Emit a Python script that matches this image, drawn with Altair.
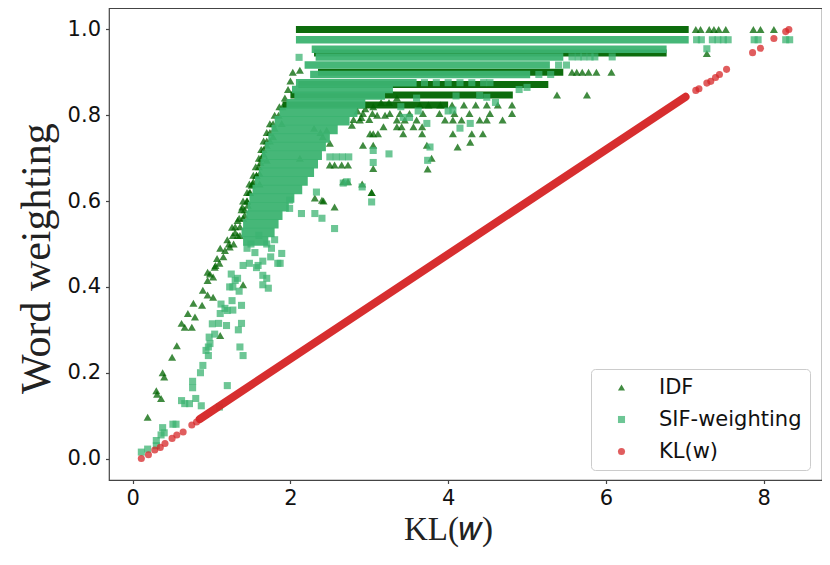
import altair as alt
import pandas as pd

SERIES = ["IDF", "SIF-weighting", "KL(w)"]
COLORS = ["#006400", "#3cb371", "#d62728"]
SHAPES = ["triangle-up", "square", "circle"]

# ---- IDF: dense horizontal runs (y, x_start, x_end) and scattered points
idf_band_y  = [1.000, 0.945, 0.900, 0.872, 0.847, 0.824]
idf_band_x0 = [2.07, 2.30, 2.35, 2.10, 2.00, 1.90]
idf_band_x1 = [7.05, 6.77, 5.46, 5.27, 4.82, 4.00]

idf_x = [7.14, 7.20, 7.31, 7.37, 7.43, 7.52, 7.87, 7.96, 8.13, 7.28,
         5.57, 5.63, 5.70, 5.78, 5.88, 6.07, 5.38, 5.76,
         3.64, 3.75, 3.90, 4.05, 4.20, 4.35, 4.49, 4.63, 4.81,
         2.92, 3.04, 3.26, 3.39, 3.51, 3.68, 3.89, 4.08, 4.27, 4.53, 4.81,
         3.35, 3.45, 3.60, 3.96, 4.06, 4.17, 4.40, 4.49, 4.69,
         3.18, 3.35, 3.41, 3.56, 3.67,
         3.01, 3.11, 3.43, 3.67, 4.06, 4.30, 4.44,
         2.92, 3.05, 3.73, 4.12, 4.28, 3.79,
         2.50, 2.56, 2.65, 2.73, 3.05, 3.74, 3.03,
         2.67, 2.73, 2.91, 3.03, 2.31, 2.40, 2.42, 2.56,
         2.80, 2.90, 3.00, 3.10, 3.20, 2.85, 2.95, 3.05, 3.15, 3.25, 3.35,
         2.12, 2.41, 2.50, 2.30, 2.38, 2.46, 2.78, 2.88, 3.05,
         0.19, 0.30, 0.31, 0.36, 0.38, 0.40, 0.50, 0.56, 0.62, 0.66, 0.75, 0.70,
         0.79, 0.77, 0.88, 0.89, 0.95, 1.02, 0.95, 1.02, 0.95, 1.04, 1.07, 1.11,
         1.17, 1.23, 1.26, 1.30, 1.36, 1.42, 1.39, 1.51, 1.61, 1.53, 1.61, 1.70,
         1.78, 1.89, 2.12, 1.11, 1.40, 1.20, 1.33, 1.45, 1.48, 1.57, 1.62, 1.66,
         1.70, 1.74, 1.80, 1.85, 1.90, 1.93, 1.97, 2.00, 2.03, 0.98, 1.46,
         1.22, 1.28, 1.27, 1.33, 1.30, 1.36, 1.35, 1.40, 1.38, 1.42, 1.40, 1.45,
         1.45, 1.49, 1.48, 1.52, 1.53, 1.57, 1.56, 1.60, 1.60, 1.63, 1.63, 1.66,
         1.66, 1.70, 1.70, 1.74, 1.74, 1.78, 1.80, 1.86, 1.15, 1.10, 1.05]
idf_y = [1.000, 1.000, 1.000, 1.000, 1.000, 1.000, 1.000, 1.000, 1.000, 0.944,
         0.900, 0.900, 0.900, 0.900, 0.900, 0.900, 0.847, 0.847,
         0.824, 0.824, 0.824, 0.824, 0.824, 0.824, 0.824, 0.824, 0.824,
         0.804, 0.804, 0.804, 0.804, 0.804, 0.804, 0.804, 0.804, 0.804, 0.804, 0.804,
         0.789, 0.789, 0.789, 0.789, 0.789, 0.789, 0.789, 0.789, 0.789,
         0.773, 0.773, 0.773, 0.773, 0.773,
         0.757, 0.757, 0.757, 0.757, 0.757, 0.757, 0.757,
         0.730, 0.730, 0.730, 0.726, 0.737, 0.700,
         0.684, 0.684, 0.684, 0.684, 0.676, 0.675, 0.620,
         0.645, 0.645, 0.640, 0.620, 0.607, 0.602, 0.600, 0.586,
         0.790, 0.795, 0.790, 0.800, 0.800, 0.810, 0.815, 0.820, 0.830, 0.830, 0.840,
         0.700, 0.750, 0.735, 0.770, 0.760, 0.765, 0.777, 0.789, 0.757,
         0.096, 0.158, 0.150, 0.140, 0.200, 0.190, 0.236, 0.263, 0.315, 0.306, 0.306, 0.338,
         0.330, 0.362, 0.357, 0.392, 0.381, 0.376, 0.415, 0.423, 0.434, 0.446, 0.466, 0.490,
         0.485, 0.493, 0.539, 0.527, 0.520, 0.567, 0.586, 0.637, 0.640, 0.645, 0.664, 0.695,
         0.750, 0.781, 0.905, 0.287, 0.405, 0.510, 0.555, 0.600, 0.620, 0.660, 0.690, 0.710,
         0.730, 0.740, 0.770, 0.800, 0.820, 0.840, 0.860, 0.880, 0.900, 0.430, 0.590,
         0.500, 0.500, 0.520, 0.520, 0.540, 0.540, 0.560, 0.560, 0.580, 0.580, 0.600, 0.600,
         0.620, 0.620, 0.640, 0.640, 0.660, 0.660, 0.680, 0.680, 0.700, 0.700, 0.720, 0.720,
         0.740, 0.740, 0.760, 0.760, 0.780, 0.780, 0.800, 0.820, 0.470, 0.455, 0.450]

# ---- SIF-weighting: dense runs (top rows, then the cloud rows) and scattered points
sif_top_y  = [0.976, 0.954, 0.936, 0.917, 0.895, 0.876, 0.860, 0.845]
sif_top_x0 = [2.07, 2.27, 2.32, 2.18, 2.25, 2.07, 2.02, 2.05]
sif_top_x1 = [7.05, 6.77, 5.46, 5.29, 5.04, 3.60, 3.30, 3.20]

sif_cloud_y  = [0.827, 0.807, 0.787, 0.767, 0.747, 0.727, 0.707, 0.687, 0.667,
                0.647, 0.627, 0.607, 0.587, 0.567, 0.547, 0.527, 0.507]
sif_cloud_x0 = [1.95, 1.86, 1.80, 1.76, 1.72, 1.68, 1.64, 1.62, 1.60,
                1.55, 1.52, 1.48, 1.46, 1.44, 1.40, 1.38, 1.40]
sif_cloud_x1 = [2.95, 2.85, 2.75, 2.60, 2.50, 2.45, 2.40, 2.35, 2.30,
                2.22, 2.15, 2.05, 1.98, 1.90, 1.85, 1.80, 1.72]

sif_x = [7.15, 7.21, 7.35, 7.42, 7.49, 7.55, 7.88, 7.93, 8.28, 8.33, 7.28,
         5.57, 5.65, 5.72, 5.80, 5.86, 6.08, 5.40, 5.50, 5.15, 5.30,
         3.70, 3.85, 4.00, 4.15, 4.30, 4.45, 4.53, 2.11,
         3.62, 4.00, 4.06, 3.43, 3.51, 3.73, 4.28, 4.15, 3.40, 3.60, 4.10, 4.49,
         4.40, 4.60, 4.90, 5.00, 3.05, 3.05, 3.03, 3.77, 3.74, 3.25, 2.72, 2.67,
         2.91, 2.33, 2.14, 2.31, 2.40, 2.56, 1.99, 1.99, 2.50, 2.58, 2.66, 2.74,
         1.87, 1.89, 1.76, 1.65, 1.65, 1.72, 1.59, 1.57, 1.48, 1.84, 1.70, 1.50,
         1.55, 1.60, 1.70, 1.75, 1.80, 1.65, 1.45, 1.40, 1.33, 1.25,
         0.11, 0.19, 0.30, 0.30, 0.36, 0.38, 0.40, 0.51, 0.55, 0.62, 0.66, 0.72,
         0.76, 0.76, 0.80, 0.87, 0.86, 0.89, 0.93, 0.96, 0.96, 0.98, 0.97, 1.01,
         1.04, 1.09, 1.19, 1.11, 1.17, 1.26, 1.27, 1.38, 1.34, 1.38, 1.36, 1.40,
         1.23, 1.30, 1.12, 1.20, 1.20, 1.27, 1.35, 1.10]
sif_y = [0.976, 0.976, 0.976, 0.976, 0.976, 0.976, 0.976, 0.976, 0.976, 0.976, 0.955,
         0.936, 0.936, 0.936, 0.936, 0.936, 0.936, 0.917, 0.917, 0.895, 0.895,
         0.876, 0.876, 0.876, 0.876, 0.876, 0.876, 0.876, 0.935,
         0.810, 0.810, 0.812, 0.795, 0.795, 0.781, 0.781, 0.770, 0.820, 0.840, 0.845, 0.842,
         0.846, 0.830, 0.860, 0.865, 0.718, 0.690, 0.598, 0.726, 0.695, 0.710, 0.645, 0.642,
         0.633, 0.621, 0.571, 0.571, 0.560, 0.536, 0.583, 0.602, 0.703, 0.703, 0.703, 0.703,
         0.455, 0.478, 0.490, 0.427, 0.405, 0.397, 0.450, 0.445, 0.455, 0.455, 0.420, 0.500,
         0.480, 0.520, 0.500, 0.470, 0.510, 0.460, 0.490, 0.450, 0.420, 0.430,
         0.015, 0.022, 0.042, 0.030, 0.055, 0.072, 0.060, 0.080, 0.080, 0.135, 0.128, 0.128,
         0.180, 0.165, 0.140, 0.123, 0.200, 0.217, 0.252, 0.260, 0.240, 0.268, 0.283, 0.314,
         0.290, 0.315, 0.310, 0.338, 0.350, 0.368, 0.346, 0.357, 0.300, 0.315, 0.260, 0.240,
         0.400, 0.415, 0.360, 0.345, 0.170, 0.400, 0.390, 0.120]

# ---- KL(w): dense run (start/end) and scattered points
kl_run_x0, kl_run_y0, kl_run_x1, kl_run_y1 = [0.85], [0.092], [7.01], [0.843]
kl_x = [0.11, 0.20, 0.28, 0.35, 0.41, 0.50, 0.56, 0.64, 0.75, 0.81,
        7.14, 7.18, 7.28, 7.33, 7.39, 7.44, 7.53, 7.86, 7.96, 8.13, 8.28, 8.32]
kl_y = [0.000, 0.009, 0.020, 0.026, 0.035, 0.047, 0.055, 0.062, 0.078, 0.085,
        0.858, 0.862, 0.875, 0.879, 0.888, 0.895, 0.907, 0.946, 0.956, 0.979, 0.995, 1.000]

X_TICKS = [0, 2, 4, 6, 8]
Y_TICKS = [0.0, 0.2, 0.4, 0.6, 0.8, 1.0]

xscale = alt.Scale(domain=[-0.30, 8.74], nice=False, zero=False)
yscale = alt.Scale(domain=[-0.05, 1.05], nice=False, zero=False)
xaxis = alt.Axis(values=X_TICKS, title="KL(𝑤)", grid=False, domain=False,
                 tickColor="#444", tickSize=3.5, tickWidth=1.2,
                 labelFont="DejaVu Sans", labelFontSize=21, labelColor="#111",
                 labelPadding=4, titleFont="Liberation Serif", titleFontSize=33,
                 titleFontWeight="normal", titleColor="#222",
                 titleX=339, titleY=59, titleBaseline="alphabetic", titleAlign="center")
yaxis = alt.Axis(values=Y_TICKS, format=".1f", title="Word weighting", grid=False,
                 domain=False, tickColor="#444", tickSize=3.5, tickWidth=1.2,
                 labelFont="DejaVu Sans", labelFontSize=21, labelColor="#111",
                 labelPadding=5, titleFont="Liberation Serif", titleFontSize=42,
                 titleFontWeight="normal", titleColor="#222",
                 titleX=-60, titleY=250, titleBaseline="alphabetic", titleAlign="center",
                 titleAngle=270)

legend = alt.Legend(title=None, orient="none", legendX=482, legendY=361,
                    padding=8, fillColor="white", strokeColor="#cccccc",
                    cornerRadius=4, symbolSize=50, symbolOffset=12,
                    labelOffset=27, labelFont="DejaVu Sans", labelFontSize=21,
                    labelColor="#111", rowPadding=10, symbolOpacity=0.75,
                    symbolStrokeWidth=0)
color = alt.Color("series:N", scale=alt.Scale(domain=SERIES, range=COLORS), legend=legend)
shape = alt.Shape("series:N", scale=alt.Scale(domain=SERIES, range=SHAPES), legend=legend)


def band_layer(ys, x0s, x1s, col, width):
    df = pd.DataFrame({"y": ys, "x0": x0s, "x1": x1s})
    return alt.Chart(df).mark_rule(strokeWidth=width, color=col, opacity=0.95).encode(
        x=alt.X("x0:Q", scale=xscale, axis=xaxis),
        x2="x1:Q",
        y=alt.Y("y:Q", scale=yscale, axis=yaxis),
    )


def point_layer(xs, ys, name, size):
    df = pd.DataFrame({"x": xs, "y": ys, "series": name})
    return alt.Chart(df).mark_point(filled=True, opacity=0.75, size=size, strokeWidth=0).encode(
        x=alt.X("x:Q", scale=xscale, axis=xaxis),
        y=alt.Y("y:Q", scale=yscale, axis=yaxis),
        color=color, shape=shape,
    )


kl_run = alt.Chart(pd.DataFrame({"x0": kl_run_x0, "y0": kl_run_y0,
                                 "x1": kl_run_x1, "y1": kl_run_y1})).mark_rule(
    strokeWidth=8, color="#d62728", strokeCap="round", opacity=0.97).encode(
    x=alt.X("x0:Q", scale=xscale, axis=xaxis), x2="x1:Q",
    y=alt.Y("y0:Q", scale=yscale, axis=yaxis), y2="y1:Q")

chart = alt.layer(
    band_layer(idf_band_y, idf_band_x0, idf_band_x1, "#006400", 7),
    point_layer(idf_x, idf_y, "IDF", 65),
    band_layer(sif_top_y, sif_top_x0, sif_top_x1, "#3cb371", 7.5),
    band_layer(sif_cloud_y, sif_cloud_x0, sif_cloud_x1, "#3cb371", 9.5),
    point_layer(sif_x, sif_y, "SIF-weighting", 50),
    kl_run,
    point_layer(kl_x, kl_y, "KL(w)", 50),
).properties(
    width=713, height=472,
    autosize=alt.AutoSizeParams(type="none"),
    padding={"left": 101, "top": 0, "right": 0, "bottom": 77},
).configure_view(stroke="#444", strokeWidth=1.2)

chart.save("out.html", embed_options={"renderer": "svg", "actions": False})
